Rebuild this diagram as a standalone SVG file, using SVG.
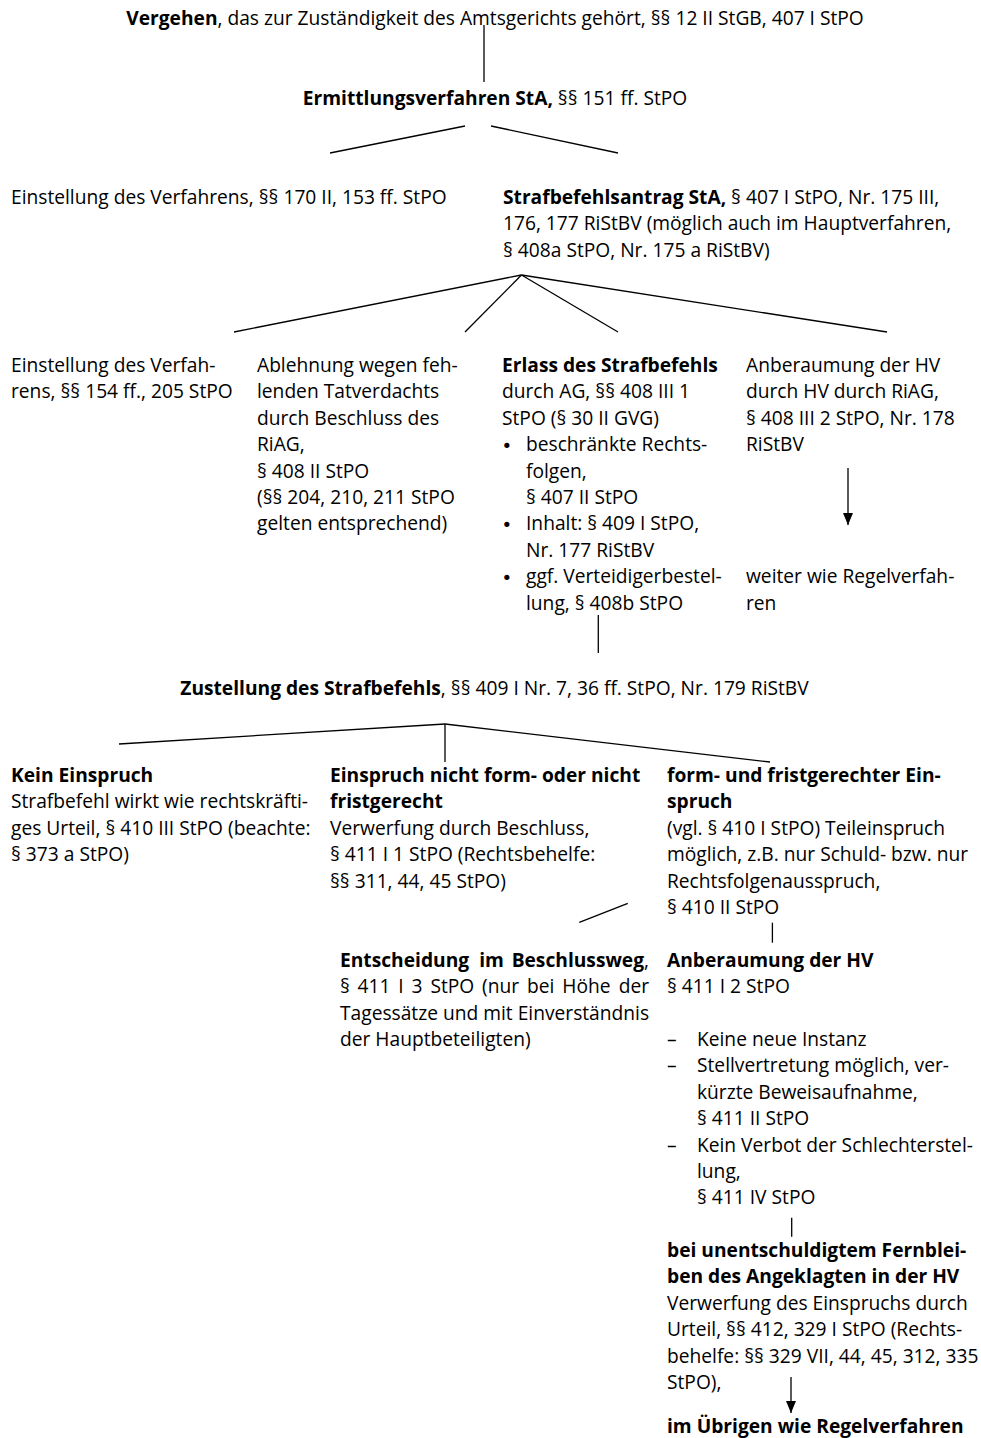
<svg xmlns="http://www.w3.org/2000/svg" width="981" height="1438" viewBox="0 0 981 1438">
<style>
text { font-family: "Open Sans", "Noto Sans", "DejaVu Sans", sans-serif; font-size: 19.2px; fill: #000; }
.b { font-weight: 700; }
.bul { font-family: "DejaVu Sans", sans-serif; font-size: 18px; }
.conn line { stroke: #000; stroke-width: 1.3; fill: none; }
</style>
<defs>
<marker id="arr" viewBox="0 0 12 10" refX="12" refY="5" markerWidth="12" markerHeight="10" markerUnits="userSpaceOnUse" orient="auto">
<path d="M0,0 L12,5 L0,10 z" fill="#000"/>
</marker>
</defs>
<rect x="0" y="0" width="981" height="1438" fill="#fff"/>

<g class="conn">
<line x1="484" y1="25" x2="484" y2="82"/>
<line x1="465" y1="126" x2="330" y2="153"/>
<line x1="491" y1="126" x2="618" y2="153"/>
<line x1="521.5" y1="275" x2="234" y2="332"/>
<line x1="521.5" y1="275" x2="465" y2="332"/>
<line x1="521.5" y1="275" x2="618" y2="332"/>
<line x1="521.5" y1="275" x2="887" y2="332"/>
<line x1="848" y1="468" x2="848" y2="525" marker-end="url(#arr)"/>
<line x1="598.3" y1="615" x2="598.3" y2="653"/>
<line x1="445" y1="724" x2="119" y2="744"/>
<line x1="445" y1="724" x2="445" y2="762"/>
<line x1="445" y1="724" x2="770" y2="762"/>
<line x1="627.8" y1="903.3" x2="579.3" y2="922.3"/>
<line x1="772.4" y1="922.7" x2="772.4" y2="942.7"/>
<line x1="791.7" y1="1217.7" x2="791.7" y2="1236.7"/>
<line x1="791" y1="1377" x2="791" y2="1413" marker-end="url(#arr)"/>
</g>

<g id="n-vergehen">
<text x="495" y="25" text-anchor="middle"><tspan class="b">Vergehen</tspan>, das zur Zuständigkeit des Amtsgerichts gehört, §§ 12 II StGB, 407 I StPO</text>
</g>

<g id="n-ermittlung">
<text x="495" y="105" text-anchor="middle"><tspan class="b">Ermittlungsverfahren StA,</tspan> §§ 151 ff. StPO</text>
</g>

<g id="n-einstellung1">
<text x="11" y="204">Einstellung des Verfahrens, §§ 170 II, 153 ff. StPO</text>
</g>

<g id="n-antrag">
<text x="503" y="204"><tspan class="b">Strafbefehlsantrag StA,</tspan> § 407 I StPO, Nr. 175 III,</text>
<text x="503" y="230.4">176, 177 RiStBV (möglich auch im Hauptverfahren,</text>
<text x="503" y="256.8">§ 408a StPO, Nr. 175 a RiStBV)</text>
</g>

<g id="n-einstellung2">
<text x="11" y="372">Einstellung des Verfah-</text>
<text x="11" y="398.4">rens, §§ 154 ff., 205 StPO</text>
</g>

<g id="n-ablehnung">
<text x="257" y="372">Ablehnung wegen feh-</text>
<text x="257" y="398.4">lenden Tatverdachts</text>
<text x="257" y="424.8">durch Beschluss des</text>
<text x="257" y="451.2">RiAG,</text>
<text x="257" y="477.6">§ 408 II StPO</text>
<text x="257" y="504">(§§ 204, 210, 211 StPO</text>
<text x="257" y="530.4">gelten entsprechend)</text>
</g>

<g id="n-erlass">
<text x="502" y="372" class="b">Erlass des Strafbefehls</text>
<text x="502" y="398.4">durch AG, §§ 408 III 1</text>
<text x="502" y="424.8">StPO (§ 30 II GVG)</text>
<text x="501.5" y="452.2" class="bul">•</text>
<text x="526" y="451.2">beschränkte Rechts-</text>
<text x="526" y="477.6">folgen,</text>
<text x="526" y="504">§ 407 II StPO</text>
<text x="501.5" y="531.4" class="bul">•</text>
<text x="526" y="530.4">Inhalt: § 409 I StPO,</text>
<text x="526" y="556.8">Nr. 177 RiStBV</text>
<text x="501.5" y="584.2" class="bul">•</text>
<text x="526" y="583.2">ggf. Verteidigerbestel-</text>
<text x="526" y="609.6">lung, § 408b StPO</text>
</g>

<g id="n-anberaumung1">
<text x="746" y="372">Anberaumung der HV</text>
<text x="746" y="398.4">durch HV durch RiAG,</text>
<text x="746" y="424.8">§ 408 III 2 StPO, Nr. 178</text>
<text x="746" y="451.2">RiStBV</text>
</g>

<g id="n-weiter">
<text x="746" y="583.2">weiter wie Regelverfah-</text>
<text x="746" y="609.6">ren</text>
</g>

<g id="n-zustellung">
<text x="494.5" y="695" text-anchor="middle"><tspan class="b">Zustellung des Strafbefehls</tspan>, §§ 409 I Nr. 7, 36 ff. StPO, Nr. 179 RiStBV</text>
</g>

<g id="n-kein">
<text x="11" y="782" class="b">Kein Einspruch</text>
<text x="11" y="808.4">Strafbefehl wirkt wie rechtskräfti-</text>
<text x="11" y="834.8">ges Urteil, § 410 III StPO (beachte:</text>
<text x="11" y="861.2">§ 373 a StPO)</text>
</g>

<g id="n-nichtform">
<text x="330" y="782" class="b">Einspruch nicht form- oder nicht</text>
<text x="330" y="808.4" class="b">fristgerecht</text>
<text x="330" y="834.8">Verwerfung durch Beschluss,</text>
<text x="330" y="861.2">§ 411 I 1 StPO (Rechtsbehelfe:</text>
<text x="330" y="887.6">§§ 311, 44, 45 StPO)</text>
</g>

<g id="n-formgerecht">
<text x="667" y="782" class="b">form- und fristgerechter Ein-</text>
<text x="667" y="808.4" class="b">spruch</text>
<text x="667" y="834.8">(vgl. § 410 I StPO) Teileinspruch</text>
<text x="667" y="861.2">möglich, z.B. nur Schuld- bzw. nur</text>
<text x="667" y="887.6">Rechtsfolgenausspruch,</text>
<text x="667" y="914">§ 410 II StPO</text>
</g>

<g id="n-entscheidung">
<text x="340" y="966.8" class="b">Entscheidung</text>
<text x="491.5" y="966.8" class="b" text-anchor="middle">im</text>
<text x="649" y="966.8" text-anchor="end"><tspan class="b">Beschlussweg</tspan>,</text>
<text y="993.2"><tspan x="340">§</tspan><tspan x="357.5">411</tspan><tspan x="398.2">I</tspan><tspan x="411.5">3</tspan><tspan x="430.4">StPO</tspan><tspan x="482.1">(nur</tspan><tspan x="527">bei</tspan><tspan x="562.3">Höhe</tspan></text>
<text x="649" y="993.2" text-anchor="end">der</text>
<text x="340" y="1019.6">Tagessätze und mit Einverständnis</text>
<text x="340" y="1046">der Hauptbeteiligten)</text>
</g>

<g id="n-anberaumung2">
<text x="667" y="966.8" class="b">Anberaumung der HV</text>
<text x="667" y="993.2">§ 411 I 2 StPO</text>
<text x="667" y="1046">–</text>
<text x="697" y="1046">Keine neue Instanz</text>
<text x="667" y="1072.4">–</text>
<text x="697" y="1072.4">Stellvertretung möglich, ver-</text>
<text x="697" y="1098.8">kürzte Beweisaufnahme,</text>
<text x="697" y="1125.2">§ 411 II StPO</text>
<text x="667" y="1151.6">–</text>
<text x="697" y="1151.6">Kein Verbot der Schlechterstel-</text>
<text x="697" y="1178">lung,</text>
<text x="697" y="1204.4">§ 411 IV StPO</text>
</g>

<g id="n-fernbleiben">
<text x="667" y="1257" class="b">bei unentschuldigtem Fernblei-</text>
<text x="667" y="1283.4" class="b">ben des Angeklagten in der HV</text>
<text x="667" y="1309.8">Verwerfung des Einspruchs durch</text>
<text x="667" y="1336.2">Urteil, §§ 412, 329 I StPO (Rechts-</text>
<text x="667" y="1362.6">behelfe: §§ 329 VII, 44, 45, 312, 335</text>
<text x="667" y="1389">StPO),</text>
</g>

<g id="n-uebrigen">
<text x="667" y="1432.5" class="b">im Übrigen wie Regelverfahren</text>
</g>
</svg>
